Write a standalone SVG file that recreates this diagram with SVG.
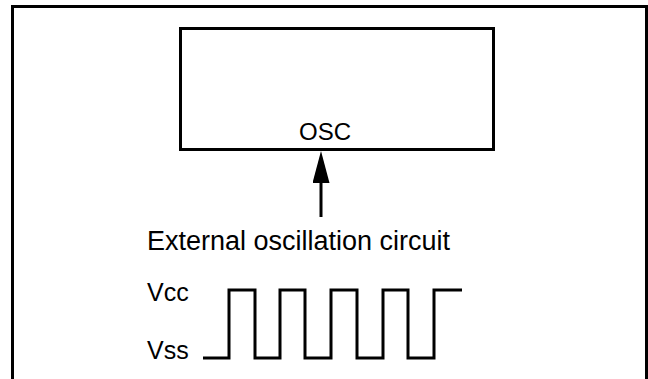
<svg xmlns="http://www.w3.org/2000/svg" width="648" height="379" viewBox="0 0 648 379">
<style>
.ln{fill:none;stroke:#000;stroke-width:3;stroke-linejoin:miter;stroke-linecap:butt}
.t{font-family:"Liberation Sans",Arial,sans-serif;fill:#000}
</style>
<defs>
<marker id="ah" viewBox="0 0 32 17" refX="3" refY="8.5" markerWidth="32" markerHeight="17" markerUnits="userSpaceOnUse" orient="auto">
<path d="M0 0 L32 8.5 L0 17 Z" fill="#000"/>
</marker>
</defs>
<rect width="648" height="379" fill="#fff"/>
<g id="frame">
<path class="ln" d="M12.5 379 V6.5 H646.5 V379"/>
</g>
<g id="osc">
<rect class="ln" x="180.5" y="28.5" width="313" height="121"/>
<text class="t" x="325" y="140" font-size="24" text-anchor="middle">OSC</text>
</g>
<g id="connectors">
<line class="ln" x1="321" y1="217" x2="321" y2="180" marker-end="url(#ah)"/>
</g>
<g id="external">
<text class="t" x="147" y="250" font-size="27">External oscillation circuit</text>
</g>
<g id="waveform">
<text class="t" x="147" y="301" font-size="25">Vcc</text>
<text class="t" x="147" y="359" font-size="25">Vss</text>
<path class="ln" d="M203 358 H229 V290 H255 V358 H280 V290 H305 V358 H331 V290 H357 V358 H383 V290 H408 V358 H434 V290 H462"/>
</g>
</svg>
